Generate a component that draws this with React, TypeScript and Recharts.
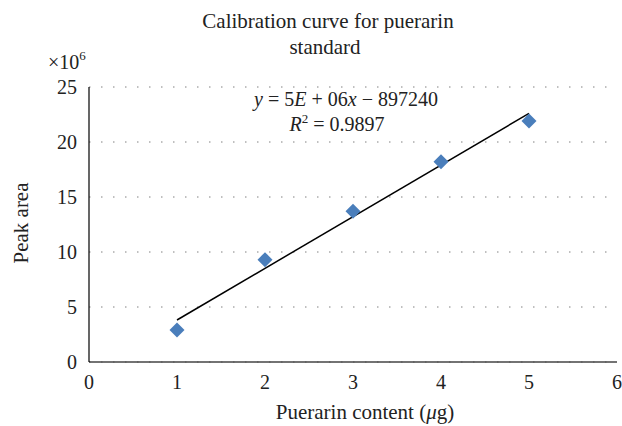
import { ComposedChart, Scatter, XAxis, YAxis, CartesianGrid } from "recharts";

// puerarin content (µg) vs. peak area (×10^6)
const content = [1, 2, 3, 4, 5];
const peakArea = [2.9, 9.3, 13.7, 18.2, 21.9];

// linear trendline end points (×10^6)
const trendX = [1, 5];
const trendY = [3.82, 22.6];

const xTicks = [0, 1, 2, 3, 4, 5, 6];
const yTicks = [0, 5, 10, 15, 20, 25];

const points = content.map((x, i) => ({ x, y: peakArea[i] }));
const trend = trendX.map((x, i) => ({ x, y: trendY[i] }));

const FONT = "'Liberation Serif', 'DejaVu Serif', serif";

const Diamond = (props: any) => {
  const { cx, cy } = props;
  const r = 7.5;
  return (
    <polygon
      points={`${cx},${cy - r} ${cx + r},${cy} ${cx},${cy + r} ${cx - r},${cy}`}
      fill="#4a7ebb"
    />
  );
};

const NoDot = () => <g />;

export default function App() {
  return (
    <div style={{ position: "absolute", left: 0, top: 0, width: 622, height: 426, background: "#fff" }}>
      <ComposedChart
        width={622}
        height={426}
        data={points}
        margin={{ top: 87, right: 5, bottom: 34, left: 49 }}
      >
        <CartesianGrid vertical={false} stroke="#808080" strokeDasharray="1.5 10.5" />
        <XAxis
          dataKey="x"
          type="number"
          domain={[0, 6]}
          ticks={xTicks}
          height={30}
          axisLine={{ stroke: "#444", strokeWidth: 1.5 }}
          tickLine={false}
          tickMargin={7}
          tick={{ fill: "#222", fontSize: 20, fontFamily: FONT }}
        />
        <YAxis
          dataKey="y"
          type="number"
          domain={[0, 25]}
          ticks={yTicks}
          width={40}
          axisLine={{ stroke: "#000", strokeWidth: 1.2 }}
          tickLine={false}
          tickMargin={6}
          tick={{ fill: "#222", fontSize: 20, fontFamily: FONT }}
        />
        <Scatter
          data={trend}
          dataKey="y"
          line={{ stroke: "#000", strokeWidth: 1.5 }}
          shape={NoDot}
          isAnimationActive={false}
        />
        <Scatter data={points} dataKey="y" shape={Diamond} isAnimationActive={false} />
      </ComposedChart>
      <svg
        width={622}
        height={426}
        style={{ position: "absolute", left: 0, top: 0, pointerEvents: "none" }}
        fontFamily={FONT}
        fill="#222"
      >
        <text x={328} y={28} fontSize={21} textAnchor="middle">Calibration curve for puerarin</text>
        <text x={325} y={54} fontSize={21} textAnchor="middle">standard</text>
        <text x={48} y={69} fontSize={20}>
          ×10<tspan fontSize={13} dy={-9}>6</tspan>
        </text>
        <text x={346} y={106} fontSize={20} textAnchor="middle">
          <tspan fontStyle="italic">y</tspan> = 5<tspan fontStyle="italic">E</tspan> + 06<tspan fontStyle="italic">x</tspan> − 897240
        </text>
        <text x={337} y={131} fontSize={20} textAnchor="middle">
          <tspan fontStyle="italic">R</tspan>
          <tspan fontSize={13} dy={-8}>2</tspan>
          <tspan dy={8}> = 0.9897</tspan>
        </text>
        <text x={21} y={223} fontSize={21} textAnchor="middle" transform="rotate(-90 21 223)" dominantBaseline="central">
          Peak area
        </text>
        <text x={365} y={419} fontSize={21} textAnchor="middle">
          Puerarin content (<tspan fontStyle="italic">μ</tspan>g)
        </text>
      </svg>
    </div>
  );
}
